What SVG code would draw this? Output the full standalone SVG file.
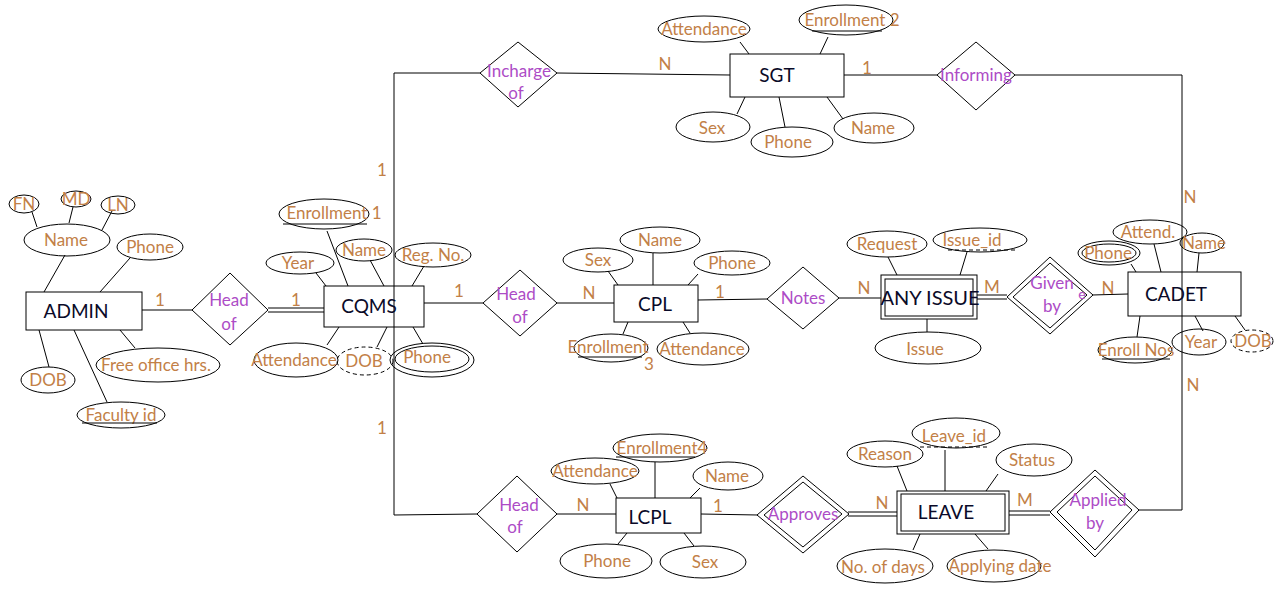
<svg xmlns="http://www.w3.org/2000/svg" width="1282" height="598" viewBox="0 0 1282 598">
<style>
line,polyline,path{stroke:#000;stroke-width:1;fill:none}
ellipse,rect,polygon{stroke:#000;stroke-width:1;fill:none}
.dash{stroke-dasharray:4 3}
text{font-family:Lato,"Open Sans","Liberation Sans",sans-serif;text-anchor:middle}
.at{fill:#C28047;font-size:17px}
.rl{fill:#AD4CC6;font-size:17px}
.en{fill:#0A0A28;font-size:19px}
.cd{fill:#C28047;font-size:17px}
</style>
<rect x="0" y="0" width="1282" height="598" style="fill:#fff;stroke:none"/>
<g id="connectors">
<line x1="394" y1="73" x2="394" y2="515"/>
<line x1="394" y1="73" x2="480" y2="73"/>
<line x1="557" y1="73" x2="730" y2="75"/>
<line x1="844" y1="75" x2="937" y2="75"/>
<line x1="1015" y1="75" x2="1182" y2="75"/>
<line x1="1182" y1="75" x2="1182" y2="510"/>
<line x1="1138" y1="510" x2="1182" y2="510"/>
<line x1="394" y1="515" x2="477" y2="514"/>
<line x1="557" y1="514" x2="616" y2="514"/>
<line x1="701" y1="514" x2="758" y2="515"/>
<line x1="142" y1="310" x2="192" y2="310"/>
<line x1="268" y1="308" x2="324" y2="308"/>
<line x1="268" y1="312" x2="324" y2="312"/>
<line x1="424" y1="303" x2="483" y2="303"/>
<line x1="557" y1="303" x2="614" y2="303"/>
<line x1="698" y1="300" x2="767" y2="299"/>
<line x1="839" y1="298" x2="881" y2="298"/>
<line x1="977" y1="295" x2="1007" y2="295"/>
<line x1="977" y1="299" x2="1007" y2="299"/>
<line x1="1092" y1="295" x2="1128" y2="294"/>
<line x1="848" y1="512" x2="897" y2="512"/>
<line x1="848" y1="516" x2="897" y2="516"/>
<line x1="1009" y1="511" x2="1050" y2="511"/>
<line x1="1009" y1="515" x2="1050" y2="515"/>
<line x1="32" y1="212" x2="37" y2="227"/>
<line x1="73" y1="207" x2="69" y2="223"/>
<line x1="112" y1="211" x2="102" y2="230"/>
<line x1="65" y1="255" x2="44" y2="292"/>
<line x1="130" y1="258" x2="100" y2="292"/>
<line x1="120" y1="330" x2="135" y2="348"/>
<line x1="39" y1="330" x2="49" y2="367"/>
<line x1="74" y1="330" x2="107" y2="402"/>
<line x1="327" y1="231" x2="348" y2="286"/>
<line x1="370" y1="260" x2="384" y2="286"/>
<line x1="316" y1="273" x2="326" y2="286"/>
<line x1="424" y1="266" x2="412" y2="286"/>
<line x1="339" y1="327" x2="327" y2="345"/>
<line x1="387" y1="327" x2="377" y2="347"/>
<line x1="413" y1="327" x2="423" y2="344"/>
<line x1="740" y1="42" x2="749" y2="54"/>
<line x1="828" y1="37" x2="820" y2="54"/>
<line x1="745" y1="97" x2="737" y2="114"/>
<line x1="779" y1="97" x2="785" y2="127"/>
<line x1="827" y1="97" x2="843" y2="119"/>
<line x1="653" y1="253" x2="653" y2="285"/>
<line x1="608" y1="271" x2="618" y2="285"/>
<line x1="698" y1="274" x2="688" y2="285"/>
<line x1="628" y1="322" x2="623" y2="334"/>
<line x1="683" y1="322" x2="690" y2="333"/>
<line x1="888" y1="257" x2="897" y2="275"/>
<line x1="967" y1="252" x2="960" y2="275"/>
<line x1="927" y1="319" x2="927" y2="332"/>
<line x1="1154" y1="244" x2="1161" y2="272"/>
<line x1="1199" y1="253" x2="1197" y2="272"/>
<line x1="1131" y1="264" x2="1136" y2="272"/>
<line x1="1140" y1="316" x2="1137" y2="337"/>
<line x1="1195" y1="316" x2="1203" y2="331"/>
<line x1="1235" y1="316" x2="1245" y2="330"/>
<line x1="655" y1="462" x2="655" y2="498"/>
<line x1="610" y1="484" x2="617" y2="498"/>
<line x1="700" y1="488" x2="690" y2="498"/>
<line x1="627" y1="533" x2="618" y2="544"/>
<line x1="684" y1="533" x2="694" y2="546"/>
<line x1="897" y1="466" x2="907" y2="491"/>
<line x1="945" y1="450" x2="945" y2="491"/>
<line x1="998" y1="474" x2="986" y2="491"/>
<line x1="920" y1="534" x2="913" y2="550"/>
<line x1="975" y1="534" x2="988" y2="549"/>
</g>
<g id="admin">
<rect x="26" y="292" width="116" height="38"/>
<text class="en" x="76" y="318">ADMIN</text>
</g>
<g id="admin-attrs">
<ellipse cx="67" cy="240" rx="43" ry="16"/><text class="at" x="66" y="246">Name</text>
<ellipse cx="24" cy="204" rx="15" ry="9"/><text class="at" x="24" y="210">FN</text>
<ellipse cx="76" cy="199" rx="15" ry="8"/><text class="at" x="76" y="205">MD</text>
<ellipse cx="118" cy="205" rx="17" ry="9"/><text class="at" x="118" y="211">LN</text>
<ellipse cx="150" cy="247" rx="33" ry="13"/><text class="at" x="150" y="253">Phone</text>
<ellipse cx="158" cy="365" rx="62" ry="17"/><text class="at" x="156" y="371">Free office hrs.</text>
<ellipse cx="48" cy="380" rx="27" ry="13"/><text class="at" x="48" y="386">DOB</text>
<ellipse cx="121" cy="415" rx="44" ry="13"/><text class="at" x="121" y="421">Faculty id</text>
<line x1="82" y1="423" x2="157" y2="423"/>
</g>
<g id="head-of-1">
<polygon points="192,310 230,273 268,310 230,345"/>
<text class="rl" x="229" y="306">Head</text><text class="rl" x="229" y="330">of</text>
<text class="cd" x="160" y="306">1</text><text class="cd" x="296" y="306">1</text>
</g>
<g id="cqms">
<rect x="324" y="286" width="100" height="41"/>
<text class="en" x="369" y="313">CQMS</text>
</g>
<g id="cqms-attrs">
<ellipse cx="324" cy="214" rx="45" ry="15"/><text class="at" x="334" y="219">Enrollment 1</text>
<line x1="283" y1="224" x2="367" y2="224"/>
<ellipse cx="364" cy="250" rx="28" ry="11"/><text class="at" x="364" y="256">Name</text>
<ellipse cx="300" cy="263" rx="34" ry="11"/><text class="at" x="298" y="269">Year</text>
<ellipse cx="433" cy="255" rx="38" ry="12"/><text class="at" x="433" y="261">Reg. No.</text>
<ellipse cx="296" cy="360" rx="42" ry="17"/><text class="at" x="294" y="366">Attendance</text>
<ellipse class="dash" cx="365" cy="361" rx="28" ry="14"/><text class="at" x="364" y="367">DOB</text>
<ellipse cx="432" cy="360" rx="42" ry="17"/><ellipse cx="432" cy="359" rx="37" ry="13"/><text class="at" x="427" y="363">Phone</text>
<text class="cd" x="382" y="176">1</text><text class="cd" x="382" y="434">1</text>
</g>
<g id="incharge-of">
<polygon points="480,73 518,42 557,73 518,107"/>
<text class="rl" x="519" y="77">Incharge</text><text class="rl" x="516" y="99">of</text>
</g>
<g id="sgt">
<rect x="730" y="54" width="114" height="43"/>
<text class="en" x="777" y="82">SGT</text>
<text class="cd" x="665" y="70">N</text><text class="cd" x="867" y="74">1</text>
</g>
<g id="sgt-attrs">
<ellipse cx="704" cy="29" rx="46" ry="13"/><text class="at" x="704" y="35">Attendance</text>
<ellipse cx="846" cy="20" rx="47" ry="15"/><text class="at" x="852" y="26">Enrollment 2</text>
<line x1="812" y1="31" x2="882" y2="31"/>
<ellipse cx="713" cy="127" rx="37" ry="15"/><text class="at" x="712" y="134">Sex</text>
<ellipse cx="792" cy="142" rx="41" ry="15"/><text class="at" x="788" y="148">Phone</text>
<ellipse cx="874" cy="128" rx="40" ry="15"/><text class="at" x="873" y="134">Name</text>
</g>
<g id="informing">
<polygon points="937,75 976,42 1015,75 976,110"/>
<text class="rl" x="976" y="81">Informing</text>
</g>
<g id="head-of-2">
<polygon points="483,303 520,270 557,303 520,336"/>
<text class="rl" x="516" y="300">Head</text><text class="rl" x="520" y="323">of</text>
<text class="cd" x="459" y="297">1</text><text class="cd" x="589" y="299">N</text>
</g>
<g id="cpl">
<rect x="614" y="285" width="84" height="37"/>
<text class="en" x="655" y="311">CPL</text>
<text class="cd" x="720" y="298">1</text>
</g>
<g id="cpl-attrs">
<ellipse cx="660" cy="240" rx="40" ry="13"/><text class="at" x="660" y="246">Name</text>
<ellipse cx="598" cy="260" rx="35" ry="12"/><text class="at" x="598" y="266">Sex</text>
<ellipse cx="732" cy="263" rx="38" ry="12"/><text class="at" x="732" y="269">Phone</text>
<ellipse cx="611" cy="348" rx="37" ry="14"/><text class="at" x="608" y="353">Enrollment</text>
<line x1="578" y1="357" x2="642" y2="357"/>
<text class="at" x="649" y="370">3</text>
<ellipse cx="703" cy="349" rx="46" ry="16"/><text class="at" x="702" y="355">Attendance</text>
</g>
<g id="notes">
<polygon points="767,299 803,267 839,298 803,329"/>
<text class="rl" x="803" y="304">Notes</text>
<text class="cd" x="864" y="294">N</text>
</g>
<g id="any-issue">
<rect x="881" y="275" width="96" height="44"/>
<rect x="885" y="279" width="88" height="37"/>
<text class="en" x="930" y="305" style="font-size:20px">ANY ISSUE</text>
<text class="cd" x="992" y="293">M</text>
</g>
<g id="any-issue-attrs">
<ellipse cx="887" cy="244" rx="40" ry="13"/><text class="at" x="887" y="250">Request</text>
<ellipse cx="980" cy="240" rx="47" ry="12"/><text class="at" x="972" y="246">Issue_id</text>
<line class="dash" x1="948" y1="250" x2="1018" y2="250"/>
<ellipse cx="928" cy="348" rx="53" ry="16"/><text class="at" x="925" y="355">Issue</text>
</g>
<g id="given-by">
<polygon points="1007,297 1050,257 1093,295 1050,334"/>
<polygon points="1013,297 1050,263 1087,295 1050,328"/>
<text class="rl" x="1052" y="289">Given</text><text class="rl" x="1052" y="312">by</text>
<text class="rl" x="1082" y="299" style="font-size:14px">e</text>
<text class="cd" x="1108" y="294">N</text>
</g>
<g id="cadet">
<rect x="1128" y="272" width="113" height="44"/>
<text class="en" x="1176" y="301">CADET</text>
<text class="cd" x="1190" y="203">N</text><text class="cd" x="1193" y="391">N</text>
</g>
<g id="cadet-attrs">
<ellipse cx="1150" cy="232" rx="37" ry="12"/><text class="at" x="1148" y="238">Attend.</text>
<ellipse cx="1202" cy="243" rx="22" ry="10"/><text class="at" x="1204" y="249">Name</text>
<ellipse cx="1109" cy="253" rx="31" ry="12"/><ellipse cx="1109" cy="253" rx="27" ry="9"/><text class="at" x="1108" y="259">Phone</text>
<ellipse cx="1135" cy="350" rx="37" ry="13"/><text class="at" x="1136" y="356">Enroll Nos</text>
<line x1="1102" y1="359" x2="1170" y2="359"/>
<ellipse cx="1199" cy="342" rx="27" ry="13"/><text class="at" x="1201" y="348">Year</text>
<ellipse class="dash" cx="1252" cy="341" rx="21" ry="11"/><text class="at" x="1253" y="347">DOB</text>
</g>
<g id="head-of-3">
<polygon points="477,514 517,476 557,514 517,552"/>
<text class="rl" x="519" y="511">Head</text><text class="rl" x="515" y="533">of</text>
<text class="cd" x="583" y="511">N</text>
</g>
<g id="lcpl">
<rect x="616" y="498" width="85" height="35"/>
<text class="en" x="650" y="524">LCPL</text>
<text class="cd" x="718" y="512">1</text>
</g>
<g id="lcpl-attrs">
<ellipse cx="660" cy="448" rx="47" ry="14"/><text class="at" x="662" y="454">Enrollment4</text>
<line x1="616" y1="457" x2="695" y2="457"/>
<ellipse cx="595" cy="471" rx="44" ry="13"/><text class="at" x="595" y="477">Attendance</text>
<ellipse cx="728" cy="476" rx="35" ry="14"/><text class="at" x="727" y="482">Name</text>
<ellipse cx="606" cy="561" rx="46" ry="17"/><text class="at" x="607" y="567">Phone</text>
<ellipse cx="703" cy="562" rx="43" ry="16"/><text class="at" x="705" y="568">Sex</text>
</g>
<g id="approves">
<polygon points="757,515 803,476 849,514 803,553"/>
<polygon points="764,515 803,482 842,514 803,547"/>
<text class="rl" x="803" y="520">Approves</text>
<text class="cd" x="882" y="509">N</text>
</g>
<g id="leave">
<rect x="897" y="491" width="112" height="43"/>
<rect x="901" y="494" width="104" height="37"/>
<text class="en" x="946" y="519">LEAVE</text>
<text class="cd" x="1025" y="506">M</text>
</g>
<g id="leave-attrs">
<ellipse cx="885" cy="454" rx="38" ry="13"/><text class="at" x="885" y="460">Reason</text>
<ellipse cx="956" cy="433" rx="44" ry="15"/><text class="at" x="954" y="442">Leave_id</text>
<line class="dash" x1="920" y1="447" x2="988" y2="447"/>
<ellipse cx="1034" cy="460" rx="38" ry="16"/><text class="at" x="1032" y="466">Status</text>
<ellipse cx="885" cy="566" rx="48" ry="17"/><text class="at" x="883" y="573">No. of days</text>
<ellipse cx="994" cy="566" rx="47" ry="16"/><text class="at" x="1000" y="572">Applying date</text>
</g>
<g id="applied-by">
<polygon points="1050,512 1095,470 1139,510 1095,557"/>
<polygon points="1057,512 1095,476 1132,510 1095,550"/>
<text class="rl" x="1098" y="506">Applied</text><text class="rl" x="1095" y="529">by</text>
</g>
</svg>
